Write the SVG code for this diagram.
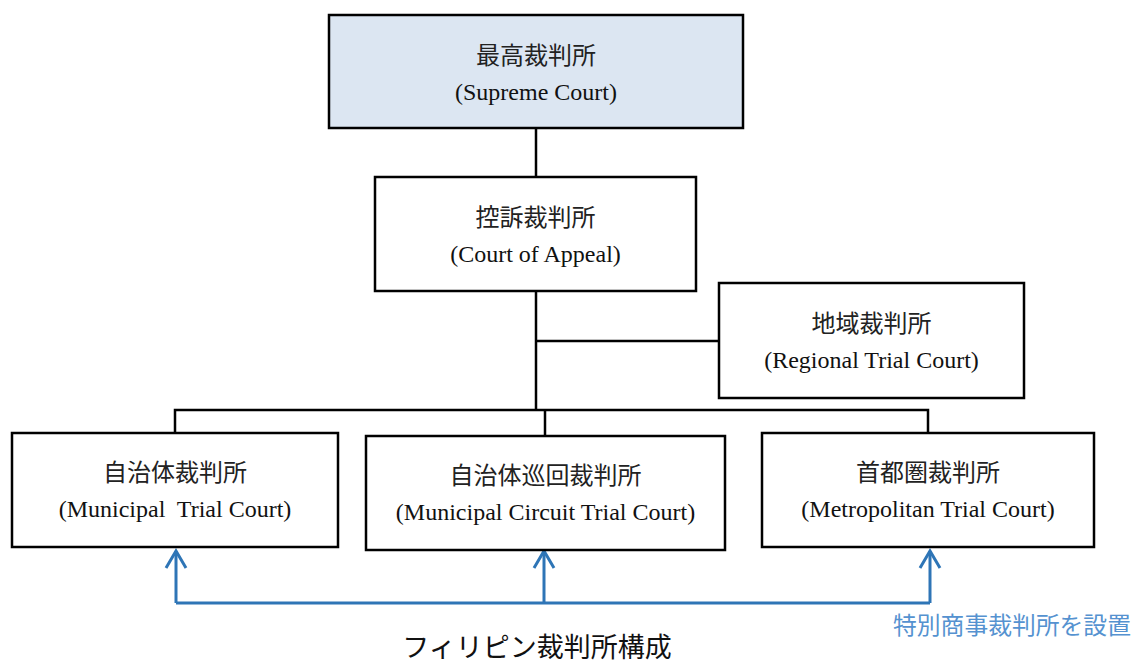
<svg xmlns="http://www.w3.org/2000/svg" width="1133" height="665" viewBox="0 0 1133 665">
  <style>
    .box { fill: #ffffff; stroke: #000000; stroke-width: 2.5; }
    .top { fill: #dce6f2; }
    .jp { font-family: "Liberation Serif", "Noto Sans CJK JP", serif; font-size: 24px; fill: #222222; text-anchor: middle; }
    .en { font-family: "Liberation Serif", "Noto Sans CJK JP", serif; font-size: 24px; fill: #111111; text-anchor: middle; }
    .conn { fill: none; stroke: #000000; stroke-width: 2.5; }
    .blue { fill: none; stroke: #2e75b6; stroke-width: 3; }
    .label { font-family: "Noto Sans CJK JP", sans-serif; font-size: 23.8px; fill: #5592d0; }
    .title { font-family: "Noto Sans CJK JP", sans-serif; font-size: 27px; fill: #111111; text-anchor: middle; }
  </style>
  <defs>
    <marker id="arrow" markerUnits="userSpaceOnUse" viewBox="-20 -12 22 24" refX="0" refY="0" markerWidth="22" markerHeight="24" orient="auto" overflow="visible">
      <path d="M-17,-10 L0,0 L-17,10" fill="none" stroke="#2e75b6" stroke-width="3"/>
    </marker>
  </defs>

  <g id="connectors">
    <path class="conn" d="M536,128 V177"/>
    <path class="conn" d="M536,291 V410"/>
    <path class="conn" d="M536,341 H719"/>
    <path class="conn" d="M175,433 V410 H928 V433"/>
    <path class="conn" d="M545,410 V436"/>
    <path class="blue" d="M176,603 H930"/>
    <path class="blue" d="M176,603 V551" marker-end="url(#arrow)"/>
    <path class="blue" d="M544,603 V551" marker-end="url(#arrow)"/>
    <path class="blue" d="M930,603 V551" marker-end="url(#arrow)"/>
  </g>

  <g id="supreme-court">
    <rect class="box top" x="329" y="15" width="414" height="113"/>
    <text class="jp" x="536" y="64">最高裁判所</text>
    <text class="en" x="536" y="100">(Supreme Court)</text>
  </g>

  <g id="court-of-appeal">
    <rect class="box" x="375" y="177" width="321" height="114"/>
    <text class="jp" x="535.5" y="226">控訴裁判所</text>
    <text class="en" x="535.5" y="262">(Court of Appeal)</text>
  </g>

  <g id="regional-trial-court">
    <rect class="box" x="719" y="283" width="305" height="115"/>
    <text class="jp" x="871.5" y="332">地域裁判所</text>
    <text class="en" x="871.5" y="368">(Regional Trial Court)</text>
  </g>

  <g id="municipal-trial-court">
    <rect class="box" x="12" y="433" width="326" height="114"/>
    <text class="jp" x="175" y="481">自治体裁判所</text>
    <text class="en" x="175" y="517" xml:space="preserve">(Municipal  Trial Court)</text>
  </g>

  <g id="municipal-circuit-trial-court">
    <rect class="box" x="366" y="436" width="359" height="114"/>
    <text class="jp" x="545.5" y="484">自治体巡回裁判所</text>
    <text class="en" x="545.5" y="520">(Municipal Circuit Trial Court)</text>
  </g>

  <g id="metropolitan-trial-court">
    <rect class="box" x="762" y="433" width="332" height="114"/>
    <text class="jp" x="928" y="481">首都圏裁判所</text>
    <text class="en" x="928" y="517">(Metropolitan Trial Court)</text>
  </g>

  <g id="special-commercial-label">
    <text class="label" x="893" y="634">特別商事裁判所を設置</text>
  </g>

  <g id="title">
    <text class="title" x="537" y="657">フィリピン裁判所構成</text>
  </g>
</svg>
